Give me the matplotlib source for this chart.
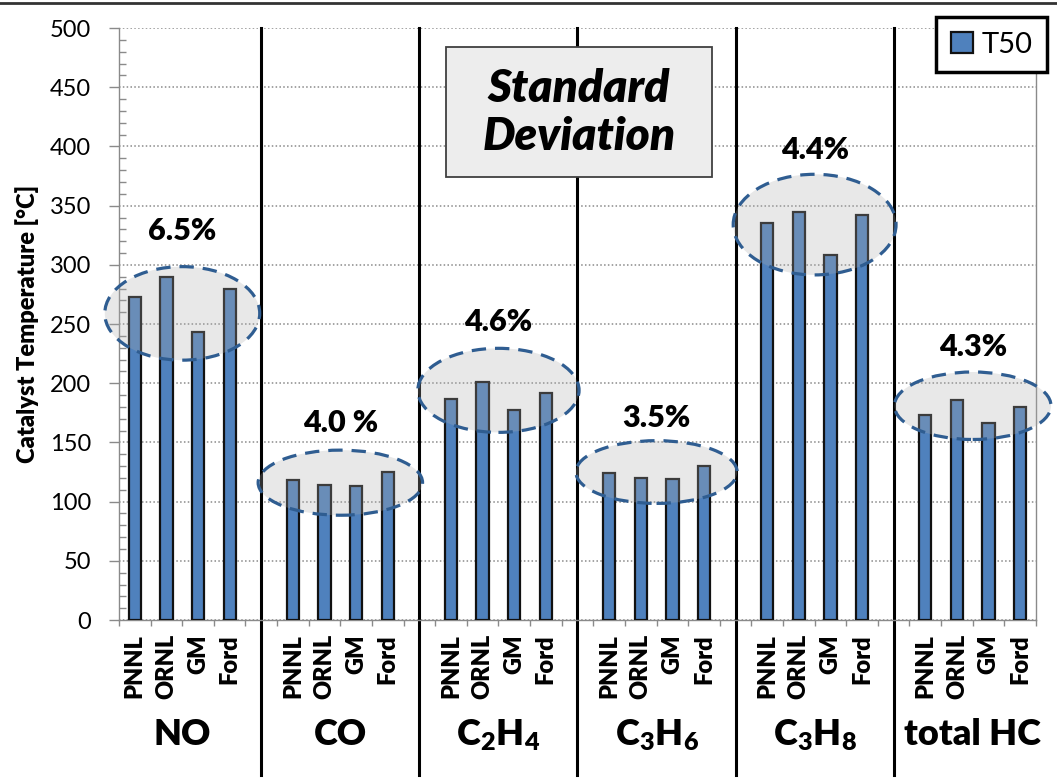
import numpy as np
import matplotlib
matplotlib.use("Agg")
import matplotlib.pyplot as plt
from matplotlib.patches import Ellipse, Rectangle, Patch
from matplotlib.lines import Line2D
import matplotlib.transforms as mtransforms

plt.rcParams['font.family'] = ['Lato', 'DejaVu Sans']
plt.rcParams['mathtext.default'] = 'regular'

# T50 light-off temperatures per lab, grouped by species
gases = ['NO', 'CO', 'C$_2$H$_4$', 'C$_3$H$_6$', 'C$_3$H$_8$', 'total HC']
labs = ['PNNL', 'ORNL', 'GM', 'Ford']
t50_no = [273, 290, 243, 280]
t50_co = [118, 114, 113, 125]
t50_c2h4 = [187, 201, 177, 192]
t50_c3h6 = [124, 120, 119, 130]
t50_c3h8 = [335, 345, 308, 342]
t50_hc = [173, 186, 166, 180]
std_dev = ['6.5%', '4.0 %', '4.6%', '3.5%', '4.4%', '4.3%']

# highlight ellipses: centre temperature, height (°C) and label height
ell_y = [259, 116, 194, 125, 334, 181]
ell_h = [79, 55, 71, 53, 85, 57]
ell_w = [4.9, 5.2, 5.1, 5.1, 5.15, 4.95]
lbl_y = [329, 166, 252, 171, 397, 231]

series = [t50_no, t50_co, t50_c2h4, t50_c3h6, t50_c3h8, t50_hc]

# 4 bars per group plus one blank slot between groups
n_per = len(labs) + 1
xs, vals, names = [], [], []
for g, s in enumerate(series):
    for i, v in enumerate(s):
        xs.append(g * n_per + i)
        vals.append(v)
        names.append(labs[i])
n_slots = len(gases) * n_per - 1

fig = plt.figure(figsize=(10.57, 7.8), dpi=100)
ax = fig.add_axes([0.1126, 0.2051, 0.9801 - 0.1126, 0.964 - 0.2051])

bar_col = '#4f81bd'
bars = ax.bar(xs, vals, width=0.39, color=bar_col, edgecolor='#111111',
              linewidth=1.6, zorder=3)

ax.set_xlim(-0.5, n_slots - 0.5)
ax.set_ylim(0, 500)
ax.set_yticks(np.arange(0, 501, 50))
ax.set_yticks(np.arange(0, 501, 10), minor=True)
ax.yaxis.grid(True, which='major', linestyle=(0, (1, 1.5)), color='#8a8a8a',
              linewidth=1.1, zorder=0)
ax.tick_params(axis='y', which='major', direction='out', length=7, width=1,
               color='#8a8a8a', labelsize=17, pad=13)
ax.tick_params(axis='y', which='minor', direction='in', length=5, width=1,
               color='#8a8a8a')

# slot boundaries as ticks, lab names as minor labels
ax.set_xticks(np.arange(-0.5, n_slots, 1))
ax.set_xticklabels([])
ax.tick_params(axis='x', which='major', direction='out', length=4, width=1,
               color='#8a8a8a')
ax.set_xticks(xs, minor=True)
ax.set_xticklabels(names, minor=True, rotation=90, fontweight='heavy',
                   fontsize=17, va='top', ha='center')
ax.tick_params(axis='x', which='minor', length=0, pad=10)

for side in ['left', 'bottom', 'right']:
    ax.spines[side].set_color('#8a8a8a')
    ax.spines[side].set_linewidth(1)
ax.spines['top'].set_visible(False)

ax.set_ylabel('Catalyst Temperature [°C]', fontweight='heavy', fontsize=17,
              labelpad=8)

# group separators running down through the label area
trans = mtransforms.blended_transform_factory(ax.transData, fig.transFigure)
for g in range(1, len(gases)):
    xsep = g * n_per - 1
    ax.add_line(Line2D([xsep, xsep], [0.006, 0.964], transform=trans,
                       color='black', linewidth=2.2, zorder=2, clip_on=False))

# species names under each group
for g, name in enumerate(gases):
    ax.text(g * n_per + 1.5, 0.058, name, transform=trans, ha='center',
            va='center', fontsize=26, fontweight='heavy')

# shaded ellipses with standard deviation labels
for g in range(len(gases)):
    cx = g * n_per + 1.5
    e = Ellipse((cx, ell_y[g]), ell_w[g], ell_h[g], facecolor=(0.68, 0.68, 0.68, 0.28),
                edgecolor='#2f5d91', linewidth=2.3, linestyle=(0, (4.5, 2.8)),
                zorder=4, clip_on=False)
    ax.add_patch(e)
    ax.text(cx, lbl_y[g], std_dev[g], ha='center', va='center', fontsize=22,
            fontweight='heavy', zorder=5)

# title box
fig.add_artist(Rectangle((446 / 1057, 1 - 177 / 780), 266 / 1057, 130 / 780,
                         transform=fig.transFigure, facecolor='#ededed',
                         edgecolor='#404040', linewidth=1.3, zorder=6))
fig.text(579 / 1057, 1 - 113 / 780, 'Standard\nDeviation', ha='center',
         va='center', fontsize=33, fontweight='heavy', fontstyle='italic',
         linespacing=1.2, zorder=7)

leg = ax.legend([Patch(facecolor=bar_col, edgecolor='#111111', linewidth=1.6)],
                ['T50'], loc='upper right', bbox_to_anchor=(0.9905, 0.978),
                bbox_transform=fig.transFigure, fontsize=21, fancybox=False,
                framealpha=1, handlelength=0.75, handleheight=0.75,
                handletextpad=0.3, borderpad=0.5, borderaxespad=0)
leg.get_frame().set_edgecolor('black')
leg.get_frame().set_linewidth(2.5)
leg.set_zorder(8)

# frame line along the top edge
fig.add_artist(Line2D([0, 1], [1 - 2.5 / 780] * 2, transform=fig.transFigure,
                      color='#333333', linewidth=2))

fig.savefig('out.png', dpi=100)
